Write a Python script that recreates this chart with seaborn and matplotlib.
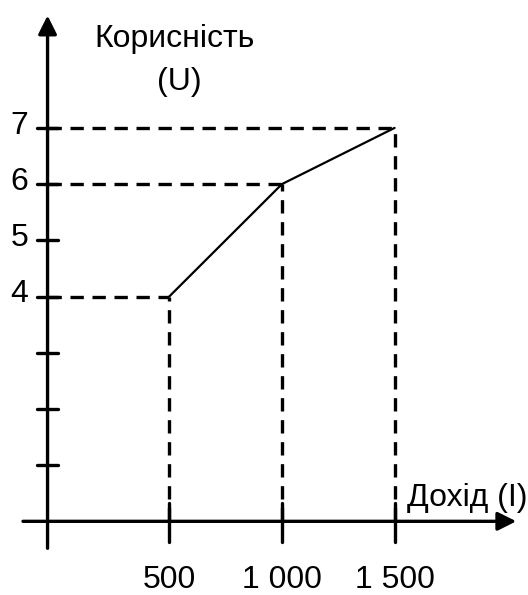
import matplotlib
matplotlib.use("Agg")
import matplotlib.pyplot as plt
import seaborn as sns
import pandas as pd

# data
income = [500, 1000, 1500]
utility = [4, 6, 7]
y_ticks = [1, 2, 3, 4, 5, 6, 7]
y_labels = ["4", "5", "6", "7"]
x_labels = ["500", "1 000", "1 500"]

sns.set_theme(style="white")
plt.rcParams['font.family'] = ['Liberation Sans', 'DejaVu Sans']

fig = plt.figure(figsize=(5.28, 5.95), dpi=100)
ax = fig.add_axes([0, 0, 1, 1])
ax.set_xlim(-251, 2092)
ax.set_ylim(-1.311, 9.276)

y_axis_x = -40  # the vertical axis sits a bit left of zero
fs = 23

# dashed guides
for xi, yi in zip(income, utility):
    ax.plot([y_axis_x, xi], [yi, yi], color='black', lw=2.4, ls=(0, (4, 2.6)), zorder=2)
    ax.plot([xi, xi], [0, yi], color='black', lw=2.4, ls=(0, (4, 2.6)), zorder=2)

# the utility curve
df = pd.DataFrame({'income': income, 'utility': utility})
sns.lineplot(data=df, x='income', y='utility', color='black', lw=1.6, ax=ax, zorder=3)
ax.axis('off')

# axes with arrows
ax.annotate('', xy=(2040, 0), xytext=(-149, 0),
            arrowprops=dict(arrowstyle='-|>', color='black', lw=2.4, mutation_scale=28, shrinkA=0, shrinkB=0))
ax.annotate('', xy=(y_axis_x, 9.0), xytext=(y_axis_x, -0.48),
            arrowprops=dict(arrowstyle='-|>', color='black', lw=2.4, mutation_scale=28, shrinkA=0, shrinkB=0))

# y ticks
for t in y_ticks:
    ax.plot([y_axis_x - 48, y_axis_x + 48], [t, t], color='black', lw=2.4, zorder=4)
for lab in y_labels:
    ax.text(-165, int(lab) - 0.1, lab, ha='center', va='baseline', fontsize=fs, color='black')

# x ticks
for xi, lab in zip(income, x_labels):
    ax.plot([xi, xi], [0.33, -0.36], color='black', lw=2.4, zorder=4)
    ax.text(xi, -1.19, lab, ha='center', va='baseline', fontsize=fs, color='black')

ax.text(525, 8.44, 'Корисність', ha='center', va='baseline', fontsize=fs, color='black')
ax.text(543, 7.68, '(U)', ha='center', va='baseline', fontsize=fs, color='black')
ax.text(2088, 0.27, 'Дохід (I)', ha='right', va='baseline', fontsize=fs, color='black')

fig.savefig('out.png', dpi=100)
